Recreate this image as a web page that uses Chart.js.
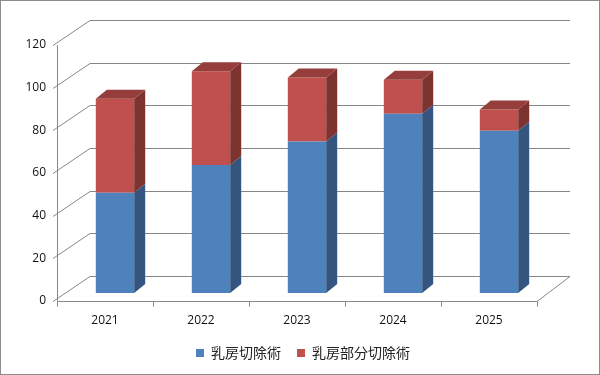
<!DOCTYPE html>
<html>
<head>
<meta charset="utf-8">
<script src="https://cdn.jsdelivr.net/npm/chart.js@4.4.1/dist/chart.umd.min.js"></script>
<style>
  html, body { margin: 0; padding: 0; background: #fff; }
  #wrap { width: 600px; height: 375px; box-sizing: border-box; border: 1px solid #8c8c8c; position: relative; }
</style>
</head>
<body>
<div id="wrap"><canvas id="chart1"></canvas></div>
<script>
const years = ['2021', '2022', '2023', '2024', '2025'];
const mastectomy = [47, 60, 71, 84, 76];
const partialMastectomy = [44, 44, 30, 16, 10];
const yTicks = [0, 20, 40, 60, 80, 100, 120];

// 奥行き (grid wall depth, and bar offset/depth)
const wallDX = 33, wallDY = -25;
const barShiftX = 10, barShiftY = -8;
const barDX = 11, barDY = -9;
const legendShift = 34;

const faceColors = {
  blue: { front: '#4f81bd', side: '#33557f', top: '#41699a' },
  red: { front: '#c0504d', side: '#7e3331', top: '#953e3b' }
};

const box3d = {
  id: 'box3d',
  afterLayout(chart) {
    // legend is centred on the whole figure, not on the plot
    chart.legend.left += legendShift;
    chart.legend.right += legendShift;
  },
  beforeDatasetsDraw(chart) {
    const { ctx, chartArea: a, scales } = chart;
    const y = scales.y;
    ctx.save();
    ctx.strokeStyle = '#878787';
    ctx.lineWidth = 1;
    ctx.beginPath();
    yTicks.forEach(v => {
      const py = Math.round(y.getPixelForValue(v)) + 0.5;
      ctx.moveTo(a.left - 4, py);
      ctx.lineTo(a.left + wallDX, py + wallDY);
      ctx.lineTo(a.right + wallDX, py + wallDY);
    });
    const b = Math.round(a.bottom) + 0.5;
    const l = Math.round(a.left) + 0.5;
    ctx.moveTo(l, Math.round(y.getPixelForValue(120)));
    ctx.lineTo(l, b);
    ctx.lineTo(a.right, b);
    ctx.lineTo(a.right + wallDX, b + wallDY);
    const step = (a.right - a.left) / years.length;
    for (let i = 0; i <= years.length; i++) {
      const px = Math.round(a.left + i * step) + 0.5;
      ctx.moveTo(px, b);
      ctx.lineTo(px, b + 5);
    }
    ctx.stroke();
    ctx.restore();

    ctx.save();
    ctx.translate(barShiftX, barShiftY);
  },
  afterDatasetsDraw(chart) {
    const { ctx } = chart;
    const n = chart.data.datasets.length;
    chart.data.datasets.forEach((ds, di) => {
      const c = faceColors[ds.face];
      chart.getDatasetMeta(di).data.forEach(bar => {
        const right = bar.x + bar.width / 2;
        const left = bar.x - bar.width / 2;
        ctx.fillStyle = c.side;
        ctx.beginPath();
        ctx.moveTo(right, bar.base);
        ctx.lineTo(right + barDX, bar.base + barDY);
        ctx.lineTo(right + barDX, bar.y + barDY);
        ctx.lineTo(right, bar.y);
        ctx.closePath();
        ctx.fill();
        if (di === n - 1) {
          ctx.fillStyle = c.top;
          ctx.beginPath();
          ctx.moveTo(left, bar.y);
          ctx.lineTo(left + barDX, bar.y + barDY);
          ctx.lineTo(right + barDX, bar.y + barDY);
          ctx.lineTo(right, bar.y);
          ctx.closePath();
          ctx.fill();
        }
      });
    });
    ctx.restore();
  }
};

new Chart(document.getElementById('chart1'), {
  type: 'bar',
  data: {
    labels: years,
    datasets: [
      { label: '乳房切除術', data: mastectomy, face: 'blue', backgroundColor: faceColors.blue.front, borderWidth: 0 },
      { label: '乳房部分切除術', data: partialMastectomy, face: 'red', backgroundColor: faceColors.red.front, borderWidth: 0 }
    ]
  },
  options: {
    responsive: true,
    maintainAspectRatio: false,
    animation: false,
    layout: { padding: { top: 44, right: 62, bottom: 4, left: 0 } },
    datasets: { bar: { categoryPercentage: 1, barPercentage: 0.4 } },
    plugins: {
      tooltip: { enabled: false },
      legend: {
        position: 'bottom',
        labels: {
          boxWidth: 8,
          boxHeight: 8,
          padding: 16,
          color: '#222',
          font: { family: '"Noto Sans CJK JP", sans-serif', size: 14 }
        }
      }
    },
    scales: {
      x: {
        stacked: true,
        grid: { display: false, drawTicks: false },
        border: { display: false },
        ticks: { color: '#111', padding: 12, font: { family: '"Open Sans", sans-serif', size: 12 } },
        afterFit(scale) { scale.height = 29; }
      },
      y: {
        stacked: true,
        min: 0,
        max: 120,
        grid: { display: false, drawTicks: false },
        border: { display: false },
        ticks: { stepSize: 20, color: '#111', padding: 11, font: { family: '"Open Sans", sans-serif', size: 12 } },
        afterFit(scale) { scale.width = 56; }
      }
    }
  },
  plugins: [box3d]
});
</script>
</body>
</html>
